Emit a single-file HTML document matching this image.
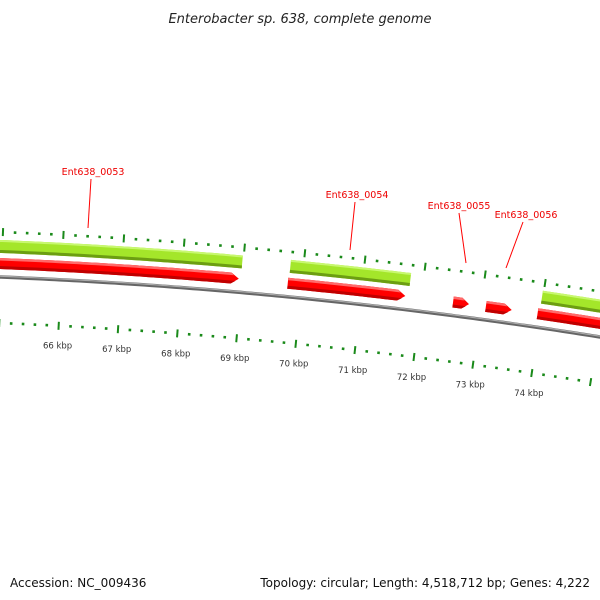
<!DOCTYPE html>
<html><head><meta charset="utf-8"><style>
html,body{margin:0;padding:0;background:#fff;}
svg{display:block;font-family:"DejaVu Sans","Liberation Sans",sans-serif;}
</style></head><body>
<svg id="map" width="600" height="600" viewBox="0 0 600 600">
<text x="300" y="23" text-anchor="middle" font-size="13" font-style="italic" fill="#222">Enterobacter sp. 638, complete genome</text>
<text x="10" y="587" font-size="12" fill="#111">Accession: NC_009436</text>
<text x="590" y="587" font-size="12" fill="#111" text-anchor="end">Topology: circular; Length: 4,518,712 bp; Genes: 4,222</text>
<g id="layer"></g>
</svg>
<script>
const geneNames = ["Ent638_0053","Ent638_0054","Ent638_0055","Ent638_0056",""];
const geneStarts = [62000,69767,72533,73083,73950];
const geneEnds = [68950,71733,72800,73517,79000];
const orfStarts = [62000,69783,73983];
const orfEnds = [68983,71783,79000];
const tickStart = 62000, tickEnd = 78000, tickStep = 200;
const labelKbp = [66,67,68,69,70,71,72,73,74];

const NS="http://www.w3.org/2000/svg";
const layer=document.getElementById('layer');
// circle through three backbone points
const P=[[0,277],[300,298],[600,337]];
function circ(a,b,c){const d=2*(a[0]*(b[1]-c[1])+b[0]*(c[1]-a[1])+c[0]*(a[1]-b[1]));
const s=p=>p[0]*p[0]+p[1]*p[1];
const ux=(s(a)*(b[1]-c[1])+s(b)*(c[1]-a[1])+s(c)*(a[1]-b[1]))/d;
const uy=(s(a)*(c[0]-b[0])+s(b)*(a[0]-c[0])+s(c)*(b[0]-a[0]))/d;
return [ux,uy,Math.hypot(a[0]-ux,a[1]-uy)];}
const [cx,cy,R]=circ(P[0],P[1],P[2]);
// reference: 66 kbp at backbone x=61
const refY = 277+ (61/300)*21;
const phi0=Math.atan2(refY-cy,61-cx);
const dphi=0.060/R;
function ang(bp){return phi0+(bp-66000)*dphi;}
function pt(bp,off){const a=ang(bp),r=R+off;return [cx+r*Math.cos(a),cy+r*Math.sin(a)];}
function el(tag,attrs){const e=document.createElementNS(NS,tag);for(const k in attrs)e.setAttribute(k,attrs[k]);layer.appendChild(e);return e;}
function arcPts(b0,b1,off){const n=Math.max(2,Math.ceil((b1-b0)/100));const out=[];for(let i=0;i<=n;i++){out.push(pt(b0+(b1-b0)*i/n,off));}return out;}
function poly(pts){return 'M'+pts.map(p=>p[0].toFixed(2)+','+p[1].toFixed(2)).join('L')+'Z';}

// backbone
let bb=arcPts(tickStart,tickEnd,0);
let e=el('path',{d:'M'+bb.map(p=>p.join(',')).join('L'),fill:'none',stroke:'#666',"stroke-width":3.5});


e=el('path',{d:'M'+arcPts(tickStart,tickEnd,0.8).map(p=>p.join(',')).join('L'),fill:'none',stroke:'#aaa',"stroke-width":1.2});



// ORF track (green)
orfStarts.forEach((s,i)=>{
 const t=arcPts(s,orfEnds[i],37), b=arcPts(s,orfEnds[i],24).reverse();
 let g=el('path',{d:poly(t.concat(b)),fill:'#a4e62a'});
 
 
 let g2=el('path',{d:poly(arcPts(s,orfEnds[i],27).concat(arcPts(s,orfEnds[i],24).reverse())),fill:'#6c9e12'});
 
 
 let g3=el('path',{d:poly(arcPts(s,orfEnds[i],37).concat(arcPts(s,orfEnds[i],35).reverse())),fill:'#c8f870'});
 
 
});

// CDS track (red arrows)
geneStarts.forEach((s,i)=>{
 const en=geneEnds[i], tip=Math.min(130,(en-s)*0.45), body=en-tip;
 const t=arcPts(s,body,19), b=arcPts(s,body,8).reverse();
 const pts=t.concat([pt(en,13.5)]).concat(b);
 let g=el('path',{d:poly(pts),fill:'#f00'});
 
 
 let h=el('path',{d:poly(arcPts(s,body,19).concat([pt(body+tip*0.35,16.5)]).concat(arcPts(s,body,16.5).reverse())),fill:'#ff6a6a'});
 
 
 let d=el('path',{d:poly(arcPts(s,body,11).concat([pt(en-tip*0.4,11)]).concat(arcPts(s,body,8).reverse())),fill:'#c00000'});
 
 
});

// ticks
for(let bp=tickStart;bp<=tickEnd;bp+=tickStep){
 const major=(bp%1000===0);
 [[1,45],[-1,-46]].forEach(([sg,mid])=>{
  const len=major?8:2.6;
  const a=pt(bp,mid-len/2),b=pt(bp,mid+len/2);
  let t=el('line',{x1:a[0],y1:a[1],x2:b[0],y2:b[1],stroke:'#1a8a1a',"stroke-width":major?2:2.6});
  
  
 });
}
labelKbp.forEach(k=>{
 const p=pt(k*1000,-66);
 let t=el('text',{x:p[0].toFixed(1),y:(p[1]+3).toFixed(1),"text-anchor":"middle","font-size":"8.5",fill:"#333"});
 t.textContent=k+' kbp';
 
 
});

// gene labels
const labelPos=[[93,175],[357,198],[459,209],[526,218]];
const lineEnds=[[88,228],[350,250],[466,263],[506,268]];
geneNames.slice(0,4).forEach((n,i)=>{
 let l=el('line',{x1:lineEnds[i][0],y1:lineEnds[i][1],x2:labelPos[i][0]-2+(i==2?2:0)+(i==3?-1:0),y2:labelPos[i][1]+4,stroke:'#f00',"stroke-width":1});
 
 
 let t=el('text',{x:labelPos[i][0],y:labelPos[i][1],"text-anchor":"middle","font-size":"9.5",fill:"#e00"});
 t.textContent=n;
 
 
});
</script>
</body></html>
